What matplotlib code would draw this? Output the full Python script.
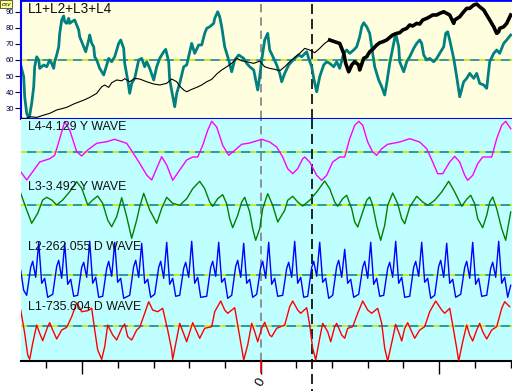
import matplotlib
matplotlib.use("Agg")
import matplotlib.pyplot as plt
import numpy as np

plt.rcParams['font.family'] = ['Liberation Sans', 'DejaVu Sans']

# ---------------- data (x = bars relative to the "0" bar) ----------------
TEAL_X = [-240,-237,-236,-234,-232,-231,-229,-227,-226,-224,-222,-221,-217,-214,-211,-209,-207,-206,-204,-202,-201,-199,-197,-196,-194,-192,-191,-189,-186,-184,-182,-181,-179,-177,-175,-172,-171,-169,-167,-166,-164,-161,-157,-154,-152,-149,-146,-142,-140,-137,-136,-133,-131,-129,-126,-122,-119,-116,-114,-111,-107,-104,-101,-97,-95,-92,-91,-87,-86,-84,-81,-77,-74,-71,-69,-67,-66,-62,-59,-56,-54,-51,-47,-46,-43,-41,-39,-36,-32,-29,-26,-22,-17,-14,-11,-7,-5,-3,-1,1,4,7,9,13,16,19,21,24,28,31,34,38,41,46,48,51,53,56,59,63,66,69,73,76,79,83,86,89,93,96,99,101,103,106,109,111,114,118,121,124,126,129,133,135,138,139,143,146,149,153,156,159,161,163,166,169,173,176,179,183,185,187,189,193,196,199,203,206,209,213,216,219,223,226,229,233,236,239,243,246,250]
TEAL_V = [56.9,49.6,37.2,26.9,23.8,25.8,33.1,43.4,55.8,62.0,60.0,54.8,56.9,55.8,60.0,57.9,54.8,58.9,63.1,68.2,76.5,84.8,87.3,83.7,82.7,85.8,82.7,83.7,84.8,81.7,78.6,74.4,71.3,68.2,65.1,72.4,75.5,70.3,68.2,62.0,60.0,54.8,50.7,56.9,61.0,58.9,62.0,70.3,72.4,67.2,57.9,47.6,39.3,45.5,48.6,60.0,61.0,55.8,58.9,54.8,47.6,55.8,61.0,65.1,66.6,58.9,47.6,34.1,31.0,39.3,45.5,55.8,56.9,65.1,70.3,66.2,64.1,69.3,69.3,76.5,79.6,80.6,82.7,85.8,89.9,86.8,80.6,68.2,60.0,52.7,60.0,63.1,61.0,57.9,55.8,53.8,47.6,41.4,49.6,60.0,72.4,76.5,66.2,61.0,56.9,51.7,46.5,51.7,56.9,58.9,61.0,63.1,62.0,65.1,61.0,55.8,48.6,40.3,49.6,56.9,58.9,57.9,55.8,58.9,54.8,64.1,66.2,64.1,66.2,68.2,74.4,80.6,83.1,80.6,76.5,68.2,55.8,47.6,43.4,38.3,45.5,57.9,70.3,76.5,68.2,58.9,52.7,58.9,62.0,67.2,70.3,72.4,70.3,63.1,60.0,61.0,58.9,61.0,64.1,68.2,76.5,77.5,72.4,61.0,49.6,37.2,46.5,48.6,51.7,48.6,51.7,45.5,44.5,42.4,58.9,64.1,66.2,64.1,70.3,72.4,75.5]

BLACK_X = [-240,-234,-231,-224,-217,-211,-204,-194,-187,-177,-171,-164,-159,-156,-152,-149,-144,-139,-136,-131,-126,-121,-114,-107,-101,-94,-89,-84,-81,-77,-74,-69,-64,-59,-54,-49,-44,-39,-34,-29,-24,-19,-14,-7,-1,4,9,14,19,24,29,34,39,44,49,54,59,64,69,74,79,83,85,88,91,94,98,99,103,106,109,112,116,119,122,126,129,132,136,139,142,146,149,152,156,159,162,166,169,172,176,179,183,186,189,193,194,199,203,206,209,213,216,219,223,226,229,233,236,238,239,243,246,250]
BLACK_V = [23.8,23.8,24.8,24.4,25.8,26.9,29.0,30.6,32.7,35.1,36.8,39.3,43.4,44.5,43.0,45.9,47.6,47.1,48.4,46.5,48.6,48.2,46.5,45.1,44.5,45.5,48.2,46.5,43.8,41.4,40.3,41.8,43.0,44.5,46.5,48.0,51.3,53.8,55.8,57.9,61.0,59.5,58.9,57.9,59.3,55.8,54.8,54.2,53.3,55.8,58.9,61.6,64.1,67.2,66.2,64.5,67.2,70.3,72.4,71.3,70.3,64.1,57.9,52.7,56.9,58.9,56.9,53.8,61.0,62.0,65.1,66.6,69.3,70.7,71.3,72.4,74.0,75.5,76.5,76.9,78.6,79.6,81.7,81.1,82.7,82.3,84.8,85.8,86.8,87.9,87.9,88.9,89.9,88.9,87.9,82.7,84.8,86.8,89.9,92.0,92.0,94.1,94.7,93.0,91.0,87.9,84.8,80.6,76.5,77.5,79.6,80.6,82.7,87.9]
BLACK_THICK_FROM = 69
REF_LEVEL = 60
Y_TICKS = [30, 40, 50, 60, 70, 80, 90]

MAG_X = [-240,-234,-228,-221,-211,-206,-201,-196,-191,-184,-179,-173,-164,-154,-146,-134,-128,-121,-114,-109,-104,-99,-94,-88,-81,-74,-68,-63,-58,-53,-49,-44,-38,-32,-26,-19,-11,1,9,16,22,27,32,37,42,44,49,56,61,66,72,79,84,89,94,98,102,107,112,116,121,127,139,149,159,166,172,177,182,189,194,199,204,207,212,217,222,231,236,241,245,250]
MAG_V = [-19.4,-27.7,-19.4,-9.7,-6.4,-3.0,13.6,30.6,22.3,0.6,-3.7,2.3,9.0,10.6,13.0,9.0,0,-11.0,-22.7,-27.7,-16.0,-4.4,-12.7,-28.0,-17.7,-7.7,-4.7,-4.7,7.0,22.0,31.0,25.3,7.0,-3.0,2.0,8.0,9.3,13.0,10.3,5.3,-4.7,-16.4,-21.4,-16.4,-6.4,-4.7,-9.7,-23.0,-28.0,-23.0,-9.7,-4.7,-4.7,13.6,27.0,31.0,27.0,10.3,0.3,-3.0,3.6,8.0,10.3,13.6,10.3,3.6,-9.7,-21.4,-21.4,-9.7,-4.0,-9.7,-23.0,-28.0,-23.0,-11.4,-4.7,-4.7,13.6,27.0,31.0,23.6]

GRN_X = [-240,-234,-229,-223,-218,-214,-209,-204,-198,-191,-184,-179,-173,-168,-163,-158,-153,-149,-144,-139,-134,-129,-124,-121,-117,-111,-104,-99,-94,-88,-81,-74,-68,-61,-56,-51,-48,-43,-38,-34,-31,-28,-23,-19,-16,-11,-8,-5,-1,2,7,12,17,24,27,32,37,42,49,56,64,69,74,77,82,86,91,94,97,102,106,109,112,116,120,124,127,132,137,141,144,149,156,162,167,174,181,188,194,201,206,210,214,217,222,226,229,232,236,241,245,247,250]
GRN_V = [12.0,-4.7,-18.0,-8.0,5.3,8.0,5.3,0.3,5.3,13.6,23.6,17.0,0.3,5.3,9.3,2.0,-14.7,-21.4,-11.4,7.6,-11.4,-33.0,-14.7,-1.4,12.0,-4.7,-18.0,-3.0,8.0,2.0,0,6.6,16.6,24.0,16.6,3.3,-1.0,6.6,10.6,1.6,-13.4,-22.4,-10.0,3.3,8.0,-6.7,-23.4,-35.0,-23.4,-3.4,11.6,0,-16.7,-5.0,5.0,9.0,3.3,-0.7,5.0,13.3,24.3,16.6,3.3,-1.0,6.6,10.0,-3.4,-16.7,-21.7,-6.7,5.0,8.3,0,-20.0,-35.0,-20.0,0,12.3,1.6,-13.4,-18.4,-1.7,9.0,3.3,0,5.0,13.3,24.0,13.3,-1.0,6.0,10.0,1.6,-13.4,-22.4,-10.0,3.3,8.3,-3.4,-23.4,-35.0,-23.4,-6.7]

BLUE_X = [-240,-237,-234,-230,-228,-225,-222,-219,-216,-213,-208,-204,-202,-199,-196,-193,-190,-187,-183,-179,-177,-174,-171,-168,-165,-162,-158,-154,-152,-149,-146,-143,-140,-137,-131,-127,-125,-122,-119,-116,-113,-110,-106,-102,-100,-97,-94,-91,-88,-85,-81,-77,-75,-72,-69,-66,-63,-60,-54,-50,-48,-45,-42,-39,-36,-33,-29,-25,-23,-20,-17,-14,-11,-8,-4,0,2,5,8,11,14,17,22,26,28,31,34,37,40,43,47,51,53,56,59,62,65,68,72,76,78,81,84,87,90,93,98,102,104,107,110,113,116,119,123,127,129,132,135,138,141,144,149,153,155,158,161,164,167,170,174,178,180,183,186,189,192,195,200,204,206,209,212,215,218,221,226,230,232,235,238,241,244,247,250]
BLUE_V = [5,-15,
          -20,8,14,-2,33,-8,-3,-22,
          -19,9,15,-3,32,-9,-4,-21,
          -20,8,13,-2,34,-8,-2,-22,
          -21,7,14,-1,33,-7,-3,-23,
          -20,9,15,-2,32,-8,-4,-22,
          -19,8,14,-3,33,-9,-3,-21,
          -20,7,13,-2,34,-8,-2,-22,
          -21,8,14,-1,33,-7,-3,-23,
          -20,9,15,-2,32,-8,-4,-22,
          -19,8,14,-3,33,-9,-3,-21,
          -20,7,13,-2,34,-8,-2,-22,
          -21,8,14,-1,33,-7,-3,-23,
          -20,9,15,-2,26,-8,-4,-22,
          -19,8,14,-3,33,-9,-3,-21,
          -20,7,13,-2,34,-8,-2,-22,
          -21,8,14,-1,33,-7,-3,-23,
          -20,9,15,-2,32,-8,-4,-22,
          -19,8,14,-3,33,-9,-3,-21,
          -20,7,13,-2,34,-8,-2,-22,
          -10]

RED_X = [-240,-236,-233,-231,-228,-224,-221,-218,-213,-211,-208,-204,-199,-194,-189,-184,-179,-173,-169,-166,-163,-159,-156,-153,-148,-144,-139,-136,-133,-129,-124,-121,-116,-112,-108,-103,-98,-93,-89,-88,-81,-74,-68,-61,-56,-49,-46,-40,-36,-33,-26,-23,-19,-17,-13,-9,-6,-3,1,4,9,11,16,24,29,32,37,40,46,49,52,55,59,62,67,70,74,76,81,84,87,92,97,102,107,111,117,121,124,127,132,135,139,141,144,147,151,154,159,164,169,175,181,184,189,192,196,198,202,206,209,212,216,219,222,226,231,236,241,244,249]
RED_V = [16,-7.3,-29,-33.3,-17.3,1,-7.3,-14.7,-0.7,3.3,-4,-13,-4,-1.3,9.3,23.3,14.3,15.3,17.7,-4,-24,-33.3,-20.7,1,-9,-14,-2.3,2,-10.7,-14,-4,-1.3,12.7,24.3,16,14.3,17.7,-4,-24,-33.3,2.7,-15.7,3.3,-12.3,-2.3,-0.7,14.3,25,16,12.7,18.3,1,-22.3,-34,-19,2.7,-5.7,-15.7,-2.3,3.7,-9,-10.7,-2.3,1,19.3,25,16,12.7,18.3,1,-22.3,-34,-12.3,2.7,-5.7,-15.7,-0.7,2.7,-9,-12.3,-2.3,-0.7,12.7,25,16,12.7,17.7,2.7,-22.3,-35,-12.3,1.7,-9,-15,-2.3,3.3,-5.7,-12.3,-4,-0.7,14.3,25,16,12.7,17.7,1,-22.3,-35,-15.7,1,-9,-15,-4,2.7,-5.7,-13,-4,-0.7,17.7,24.3,19.3]

WAVE_LABELS = ["L4-4.129 Y WAVE", "L3-3.492 Y WAVE", "L2-262.055 D WAVE", "L1-735.604 D WAVE"]
TOP_LABEL = "L1+L2+L3+L4"
ZERO_BAR = 0
MARK_BAR = 51
TICK_STEP = 35.7

for a, b in [(TEAL_X, TEAL_V), (BLACK_X, BLACK_V), (MAG_X, MAG_V), (GRN_X, GRN_V), (BLUE_X, BLUE_V), (RED_X, RED_V)]:
    assert len(a) == len(b), (len(a), len(b))

# ---------------- layout ----------------
W, H = 512, 391
fig = plt.figure(figsize=(W / 100, H / 100), dpi=100)
fig.patch.set_facecolor('white')
X0 = 21 / W
ax_t = fig.add_axes([X0, 272 / H, 1 - X0, 119 / H])
ax_b = fig.add_axes([X0, 30 / H, 1 - X0, 242 / H])
XLIM = (-239.7, 251.3)
TEAL = '#008080'
YEL = '#FFFF00'

# ---- top panel ----
ax_t.set_facecolor('#FFFFE0')
ax_t.set_xlim(*XLIM)
ax_t.set_ylim(23.4, 97.2)
ax_t.axhline(REF_LEVEL, color=TEAL, lw=1.1, zorder=1)
ax_t.axhline(REF_LEVEL, color=YEL, lw=1.1, dashes=(4, 6), zorder=1)
ax_t.axvline(ZERO_BAR, color='#808080', lw=1.2, dashes=(5, 3), zorder=1)
ax_t.axvline(MARK_BAR, color='black', lw=1.2, dashes=(6, 3), zorder=1)
ax_t.plot(TEAL_X, TEAL_V, color=TEAL, lw=2.0, zorder=2)
bx = np.array(BLACK_X); bv = np.array(BLACK_V)
m1 = bx <= BLACK_THICK_FROM
m2 = bx >= BLACK_THICK_FROM
ax_t.plot(bx[m1], bv[m1], color='black', lw=0.8, zorder=3)
ax_t.plot(bx[m2], bv[m2], color='black', lw=2.6, zorder=3)
ax_t.set_xticks([])
ax_t.set_yticks(Y_TICKS)
ax_t.tick_params(axis='y', length=4, width=0.8, color='#000040', labelsize=5.5,
                 labelcolor='#000040', pad=1)
for s in ['top', 'bottom', 'left']:
    ax_t.spines[s].set_color('#0000FF')
ax_t.spines['top'].set_linewidth(2)
ax_t.spines['bottom'].set_linewidth(1.5)
ax_t.spines['left'].set_linewidth(1.5)
ax_t.spines['right'].set_visible(False)

# ---- lower panel ----
ax_b.set_facecolor('#C0FFFF')
ax_b.set_xlim(*XLIM)
ax_b.set_ylim(361, 119)
BASES = [152.3, 205.3, 275.3, 326.0]
SERIES = [(MAG_X, MAG_V, '#FF00FF'), (GRN_X, GRN_V, '#008000'),
          (BLUE_X, BLUE_V, '#0000FF'), (RED_X, RED_V, '#FF0000')]
for base in BASES:
    ax_b.axhline(base, color=TEAL, lw=1.1, zorder=1)
    ax_b.axhline(base, color=YEL, lw=1.1, dashes=(4, 6), zorder=1)
ax_b.axvline(ZERO_BAR, color='#808080', lw=1.2, dashes=(5, 3), zorder=1)
ax_b.plot([MARK_BAR, MARK_BAR], [119, 395], color='black', lw=1.2, dashes=(6, 3),
          clip_on=False, zorder=1)
for (xs, vs, c), base in zip(SERIES, BASES):
    ax_b.plot(xs, base - np.array(vs), color=c, lw=1.0, zorder=3)
ax_b.plot([ZERO_BAR, ZERO_BAR], [361, 372], color='#FF0000', lw=1.2, clip_on=False, zorder=4)

ks = np.arange(-6, 8)
major = [k * TICK_STEP for k in ks if k % 5 == 0]
minor = [k * TICK_STEP for k in ks if k % 5 != 0]
ax_b.set_xticks(major)
ax_b.set_xticklabels(['0' if abs(m) < 1e-9 else '' for m in major], rotation=60,
                     fontsize=9.5, ha='center', va='top')
ax_b.set_xticks(minor, minor=True)
ax_b.tick_params(axis='x', which='major', length=9, width=1, pad=2)
ax_b.tick_params(axis='x', which='minor', length=5, width=1)
ax_b.set_yticks([])
for s in ['top', 'left', 'right']:
    ax_b.spines[s].set_visible(False)
ax_b.spines['bottom'].set_linewidth(1.5)

# ---- texts ----
fig.text(28 / W, 1 - 9 / H, TOP_LABEL, fontsize=9.8, va='center', ha='left', color='#111111')
for lab, ypx in zip(WAVE_LABELS, [127.3, 187.3, 246.7, 306.7]):
    fig.text(28 / W, 1 - ypx / H, lab, fontsize=8.9, va='center', ha='left', color='#111111')
fig.text(1.5 / W, 1 - 4 / H, 'csv', fontsize=4.5, style='italic', va='center', ha='left',
         color='#000060', bbox=dict(boxstyle='square,pad=0.2', fc='#FFFF80', ec='#404040', lw=0.6))

fig.savefig('out.png', dpi=100)
